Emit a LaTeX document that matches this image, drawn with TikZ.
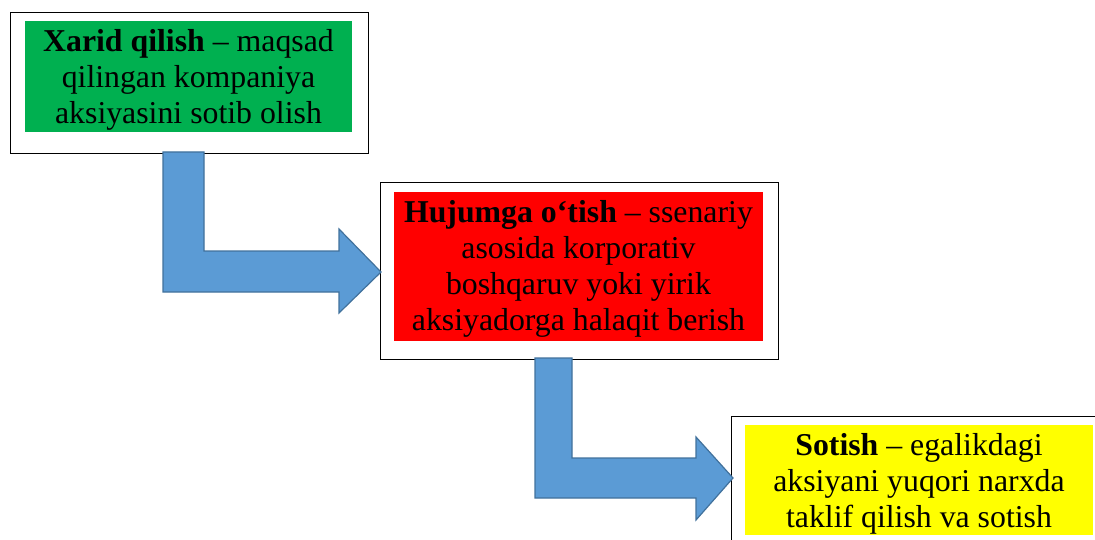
\documentclass[tikz,border=0pt]{standalone}
\usepackage{fontspec}
\setmainfont{Liberation Serif}
\definecolor{arrowfill}{HTML}{5B9BD5}
\definecolor{arrowline}{HTML}{41719C}
\definecolor{boxgreen}{HTML}{00B050}
\definecolor{boxred}{HTML}{FF0000}
\definecolor{boxyellow}{HTML}{FFFF00}
\begin{document}
\begin{tikzpicture}[x=1pt,y=-1pt,
  outerbox/.style={draw=black,line width=1.3pt,fill=white,rectangle,inner sep=0pt,anchor=north west},
  innerbox/.style={rectangle,inner sep=0pt,align=center,font=\fontsize{31.8}{36}\selectfont},
  bentarrow/.style={fill=arrowfill,draw=arrowline,line width=1.2pt,line join=miter}]
\useasboundingbox (0,0) rectangle (1095,540);
\clip (0,0) rectangle (1095,540);
% outer frames
\node[outerbox,minimum width=358pt,minimum height=141pt] (o1) at (10,12) {};
\node[outerbox,minimum width=398pt,minimum height=177pt] (o2) at (380,182) {};
\node[outerbox,minimum width=420pt,minimum height=160pt] (o3) at (731,416) {};
% inner coloured boxes
\node[innerbox,fill=boxgreen,minimum width=327pt,minimum height=111pt] (g) at (188.5,76.5) {};
\node[innerbox,anchor=center] (gt) at (188.5,80)
  {\textbf{Xarid qilish} – maqsad\\qilingan kompaniya\\aksiyasini sotib olish};
\node[innerbox,fill=boxred,minimum width=369pt,minimum height=149pt] (r) at (578.5,266.5) {};
\node[innerbox,anchor=center] (rt) at (578.5,269)
  {\textbf{Hujumga o‘tish} – ssenariy\\asosida korporativ\\boshqaruv yoki yirik\\aksiyadorga halaqit berish};
\node[innerbox,fill=boxyellow,minimum width=348pt,minimum height=110pt] (y) at (919,480) {};
\node[innerbox,anchor=center] (yt) at (919,484)
  {\textbf{Sotish} – egalikdagi\\aksiyani yuqori narxda\\taklif qilish va sotish};
% bent arrows
\draw[bentarrow] (163,152) -- (204,152) -- (204,251) -- (339,251) -- (339,229) -- (381,272)
  -- (339,313) -- (339,292) -- (163,292) -- cycle;
\draw[bentarrow] (535,358) -- (572,358) -- (572,458) -- (696,458) -- (696,437) -- (733,478)
  -- (696,520) -- (696,498) -- (535,498) -- cycle;
\end{tikzpicture}
\end{document}
